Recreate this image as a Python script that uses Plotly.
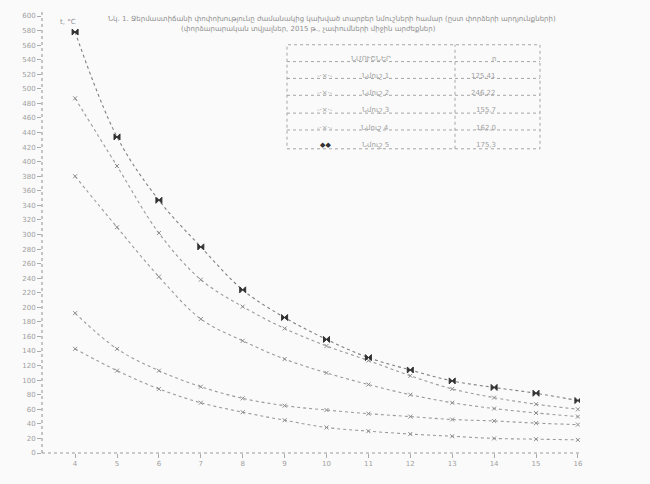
import plotly.graph_objects as go

# ---- data ----
x_vals = [4, 5, 6, 7, 8, 9, 10, 11, 12, 13, 14, 15, 16]
x_tick_labels = [str(v) for v in x_vals]
y_tick_vals = list(range(0, 601, 20))
y_tick_labels = [str(v) for v in y_tick_vals]

s1 = [578, 434, 347, 283, 224, 186, 156, 131, 114, 99, 90, 82, 72]
s2 = [487, 394, 302, 238, 201, 171, 147, 127, 106, 88, 76, 67, 60]
s3 = [380, 310, 242, 184, 154, 129, 110, 94, 80, 69, 61, 55, 50]
s4 = [192, 143, 113, 91, 75, 65, 59, 54, 50, 46, 44, 41, 39]
s5 = [143, 113, 88, 69, 56, 45, 35, 30, 26, 23, 20, 19, 18]

series_names = ["Նմուշ 1", "Նմուշ 2", "Նմուշ 3", "Նմուշ 4", "Նմուշ 5"]
legend_values = ["125,41", "246,22", "155,7", "162,0", "175,3"]
legend_header = ["ՆՄՈՒՇՆԵՐ", "n"]
title_line1 = "Նկ. 1. Ջերմաստիճանի փոփոխությունը ժամանակից կախված տարբեր նմուշների համար (ըստ փորձերի արդյունքների)"
title_line2 = "(փորձարարական տվյալներ, 2015 թ., չափումների միջին արժեքներ)"
y_title = "t, °C"

line_col = "#9a9a9a"
txt_col = "#a0a0a0"
font_family = "DejaVu Sans"

fig = go.Figure()

series = [s2, s3, s4, s5, s1]
for i, ys in enumerate(series):
    is_main = (i == 4)
    fig.add_trace(go.Scatter(
        x=x_vals, y=ys, mode="lines+markers",
        name=series_names[i],
        line=dict(color="#808080" if is_main else line_col, width=1.1, dash="dot", shape="spline"),
        marker=dict(symbol="bowtie" if is_main else "x-thin-open",
                    size=6 if is_main else 4,
                    color="#333333" if is_main else "#8c8c8c",
                    line=dict(width=1, color="#333333" if is_main else "#8c8c8c")),
        showlegend=False,
    ))

shapes = [
    dict(type="line", xref="paper", yref="paper", x0=0, x1=0, y0=0, y1=1.015,
         line=dict(color="#999", width=1.1, dash="dot")),
    dict(type="line", xref="paper", yref="paper", x0=0, x1=1, y0=0, y1=0,
         line=dict(color="#999", width=1.1, dash="dot")),
]

W, H = 650, 484
ml, mr, mt, mb = 42, 70, 12, 31
pw, ph = W - ml - mr, H - mt - mb

def px(xp):
    return (xp - ml) / pw

def py(yp):
    return 1 - (yp - mt) / ph

box_x0, box_x1, col_x = 287, 540, 455
rows_y = [41, 58, 75, 92, 110, 127, 146]
tbl_line = dict(color="#a5a5a5", width=1, dash="dot")
shapes.append(dict(type="rect", xref="paper", yref="paper",
                   x0=px(box_x0), x1=px(box_x1), y0=py(rows_y[-1]), y1=py(rows_y[0]),
                   line=tbl_line))
shapes.append(dict(type="line", xref="paper", yref="paper",
                   x0=px(col_x), x1=px(col_x), y0=py(rows_y[-1]), y1=py(rows_y[0]),
                   line=tbl_line))
for yy in rows_y[1:-1]:
    shapes.append(dict(type="line", xref="paper", yref="paper",
                       x0=px(box_x0), x1=px(box_x1), y0=py(yy), y1=py(yy), line=tbl_line))

annotations = []
fnt = dict(family=font_family, size=7, color=txt_col)
annotations.append(dict(xref="paper", yref="paper", x=px((box_x0 + col_x) / 2), y=py((rows_y[0] + rows_y[1]) / 2),
                        text=legend_header[0], showarrow=False, font=fnt))
annotations.append(dict(xref="paper", yref="paper", x=px((col_x + box_x1) / 2), y=py((rows_y[0] + rows_y[1]) / 2),
                        text=legend_header[1], showarrow=False, font=fnt))
for i in range(5):
    yc = py((rows_y[i + 1] + rows_y[i + 2]) / 2)
    sym = "<b>◆◆</b>" if i == 4 else "-·×·-"
    sym_col = "#333" if i == 4 else txt_col
    annotations.append(dict(xref="paper", yref="paper", x=px(325), y=yc, text=sym,
                            showarrow=False, font=dict(family=font_family, size=7, color=sym_col)))
    annotations.append(dict(xref="paper", yref="paper", x=px(375), y=yc, text=series_names[i],
                            showarrow=False, font=fnt))
    annotations.append(dict(xref="paper", yref="paper", x=px((col_x + box_x1) / 2), y=yc,
                            text=legend_values[i], showarrow=False, font=fnt))

annotations.append(dict(xref="paper", yref="paper", x=px(332), y=py(9), text=title_line1,
                        showarrow=False, font=dict(family=font_family, size=7, color="#8f8f8f")))
annotations.append(dict(xref="paper", yref="paper", x=px(308), y=py(19), text=title_line2,
                        showarrow=False, font=dict(family=font_family, size=7, color="#8f8f8f")))
annotations.append(dict(xref="paper", yref="paper", x=px(58), y=py(12), text=y_title,
                        showarrow=False, font=dict(family=font_family, size=7, color="#8f8f8f")))

fig.update_layout(
    width=W, height=H,
    margin=dict(l=ml, r=mr, t=mt, b=mb),
    paper_bgcolor="#fafafa", plot_bgcolor="#fafafa",
    shapes=shapes, annotations=annotations,
    font=dict(family=font_family, size=7, color=txt_col),
    hovermode=False,
)
fig.update_xaxes(range=[3.21, 16.05], tickvals=x_vals, ticktext=x_tick_labels,
                 showgrid=False, zeroline=False, showline=False,
                 ticks="outside", ticklen=4, tickcolor="#aaa",
                 tickfont=dict(family=font_family, size=7, color=txt_col))
fig.update_yaxes(range=[0, 600], tickvals=y_tick_vals, ticktext=y_tick_labels,
                 showgrid=False, zeroline=False, showline=False,
                 ticks="outside", ticklen=4, tickcolor="#aaa",
                 tickfont=dict(family=font_family, size=7, color=txt_col))

fig.write_html("out.html",
               config={"displayModeBar": False},
               post_script="document.body.style.margin='0';document.body.style.background='#fafafa';")
